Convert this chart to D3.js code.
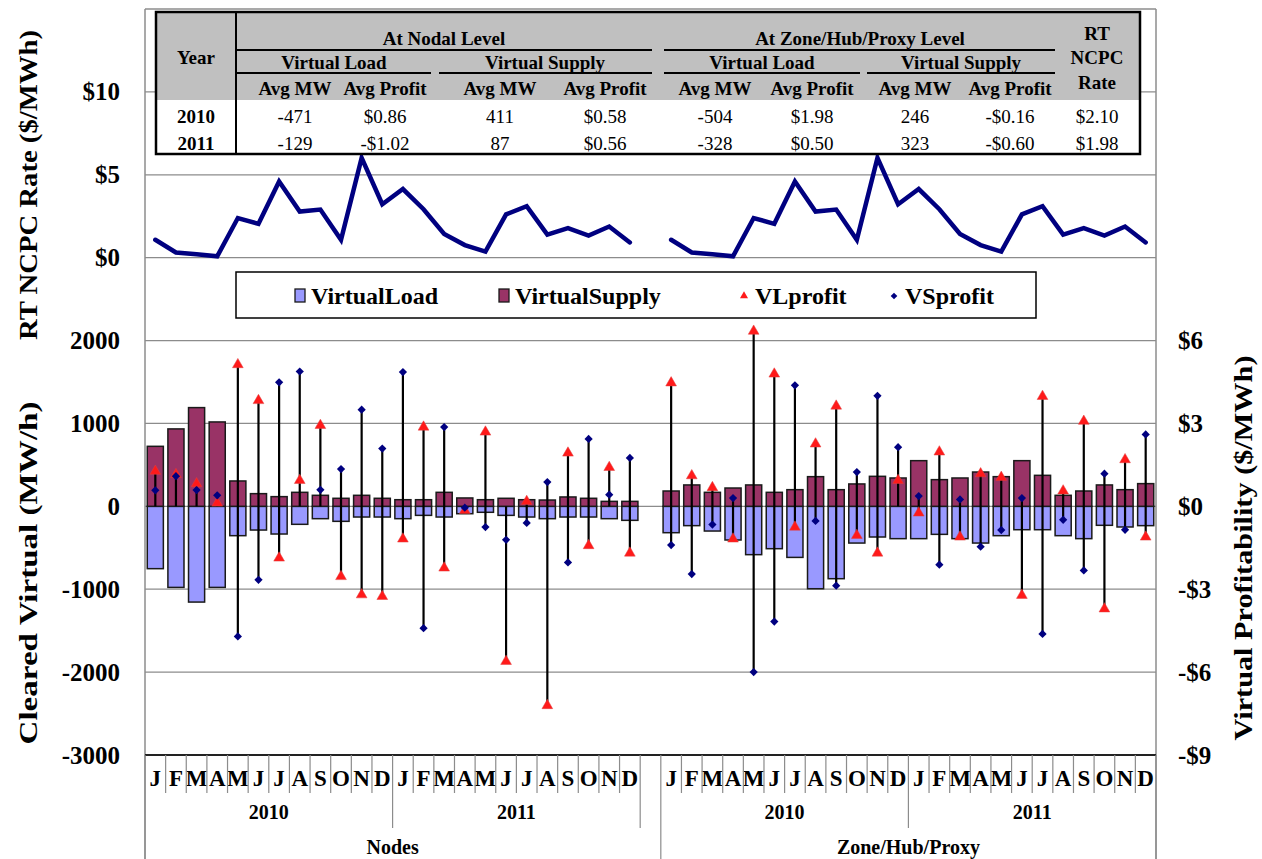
<!DOCTYPE html>
<html>
<head>
<meta charset="utf-8">
<script src="https://cdn.jsdelivr.net/npm/d3@7"></script>
<style>
  html, body { margin: 0; padding: 0; background: #fff; }
  svg { display: block; font-family: "Liberation Serif", "Times New Roman", serif; }
</style>
</head>
<body>
<svg id="chart" width="1262" height="859"></svg>
<script>
// ---- Category structure ----
const months = ["J", "F", "M", "A", "M", "J", "J", "A", "S", "O", "N", "D"];
const years = ["2010", "2011"];
const groups = ["Nodes", "Zone/Hub/Proxy"];

// ---- Monthly series, Jan 2010 .. Dec 2011 ----
// Cleared virtual MW/h at nodes
const nodeVirtualLoad   = [-752, -978, -1155, -978, -354, -286, -334, -217, -149, -181, -129, -129,
                           -149, -109, -129, -89, -72, -109, -129, -149, -129, -129, -149, -169];
const nodeVirtualSupply = [724, 934, 1191, 1018, 306, 153, 117, 169, 133, 97, 133, 97,
                           80, 80, 169, 101, 80, 97, 80, 76, 113, 97, 60, 60];
// Profitability $/MWh at nodes
const nodeVLprofit = [1.27, 1.15, 0.82, 0.12, 5.13, 3.83, -1.87, 0.94, 2.93, -2.54, -3.20, -3.26,
                      -1.18, 2.87, -2.23, -0.15, 2.69, -5.61, 0.18, -7.21, 1.93, -1.42, 1.41, -1.69];
const nodeVSprofit = [0.58, 1.09, 0.59, 0.40, -4.71, -2.66, 4.49, 4.88, 0.60, 1.35, 3.50, 2.09,
                      4.86, -4.41, 2.87, -0.05, -0.75, -1.21, -0.60, 0.88, -2.03, 2.44, 0.42, 1.75];
// Cleared virtual MW/h at zone / hub / proxy
const zoneVirtualLoad   = [-318, -233, -298, -406, -583, -511, -616, -994, -873, -443, -370, -390,
                           -390, -338, -390, -443, -354, -282, -282, -354, -390, -229, -249, -233];
const zoneVirtualSupply = [185, 258, 169, 221, 258, 169, 201, 358, 201, 270, 362, 342,
                           551, 322, 342, 414, 358, 551, 374, 133, 185, 258, 201, 274];
// Profitability $/MWh at zone / hub / proxy
const zoneVLprofit = [4.47, 1.11, 0.68, -1.18, 6.34, 4.79, -0.75, 2.26, 3.63, -1.05, -1.69, 0.94,
                      -0.24, 1.97, -1.11, 1.18, 1.05, -3.22, 3.98, 0.56, 3.08, -3.71, 1.69, -1.11];
const zoneVSprofit = [-1.40, -2.45, -0.66, 0.30, -6.00, -4.17, 4.38, -0.53, -2.87, 1.24, 4.00, 2.14,
                      0.37, -2.11, 0.25, -1.46, -0.86, 0.30, -4.62, -0.49, -2.32, 1.18, -0.85, 2.60];
// Real-time NCPC rate $/MWh
const ncpcRate = [1.08, 0.31, 0.20, 0.08, 2.39, 2.04, 4.59, 2.78, 2.90, 1.08, 6.02, 3.22,
                  4.14, 2.92, 1.43, 0.76, 0.37, 2.61, 3.10, 1.39, 1.78, 1.33, 1.88, 0.92];

// ---- Summary table ----
const tableYears = ["2010", "2011"];
const nodalVLmw = [-471, -129];
const nodalVLprofit = [0.86, -1.02];
const nodalVSmw = [411, 87];
const nodalVSprofit = [0.58, 0.56];
const zonalVLmw = [-504, -328];
const zonalVLprofit = [1.98, 0.50];
const zonalVSmw = [246, 323];
const zonalVSprofit = [-0.16, -0.60];
const rtNcpcRate = [2.10, 1.98];

// ---- Axis ticks ----
const mwTicks = [-3000, -2000, -1000, 0, 1000, 2000];
const rateTicks = [0, 5, 10];
const profitTicks = [-9, -6, -3, 0, 3, 6];
const gridValues = [-2000, -1000, 0, 1000, 2000, 3000, 4000, 5000, 6000];

// ---- Build slots: two groups of 24 months separated by an empty slot ----
const slots = [];
const rows = { "Nodes": [], "Zone/Hub/Proxy": [] };
const src = {
  "Nodes": [nodeVirtualLoad, nodeVirtualSupply, nodeVLprofit, nodeVSprofit],
  "Zone/Hub/Proxy": [zoneVirtualLoad, zoneVirtualSupply, zoneVLprofit, zoneVSprofit]
};
groups.forEach((g, gi) => {
  if (gi > 0) slots.push("gap");
  years.forEach((y, yi) => {
    months.forEach((m, mi) => {
      const key = g + "|" + y + "|" + mi;
      const k = yi * 12 + mi;
      slots.push(key);
      rows[g].push({
        key, group: g, year: y, month: m,
        load: src[g][0][k], supply: src[g][1][k],
        vl: src[g][2][k], vs: src[g][3][k], rate: ncpcRate[k]
      });
    });
  });
});
const allRows = rows["Nodes"].concat(rows["Zone/Hub/Proxy"]);

// ---- Scales ----
const plotL = 145, plotR = 1156, plotT = 9, plotB = 755;
const x = d3.scaleBand().domain(slots).range([plotL, plotR]).paddingInner(0.22).paddingOuter(0.11);
const yMW = d3.scaleLinear().domain([-3000, 6000]).range([plotB, plotT]);
const yRate = d3.scaleLinear().domain([-30, 15]).range([plotB, plotT]);
const yProfit = d3.scaleLinear().domain([-9, 18]).range([plotB, plotT]);
const cx = k => x(k) + x.bandwidth() / 2;
const money = v => (v < 0 ? "-$" : "$") + Math.abs(v).toFixed(2);
const dollars = v => (v < 0 ? "-$" : "$") + Math.abs(v);

const svg = d3.select("#chart");
const gridColor = "#8c8c8c";

// ---- Gridlines and frame ----
svg.append("g").selectAll("line").data(gridValues).join("line")
  .attr("x1", plotL).attr("x2", plotR)
  .attr("y1", d => yMW(d)).attr("y2", d => yMW(d))
  .attr("stroke", gridColor).attr("stroke-width", 1.3);
svg.append("line").attr("x1", plotL).attr("x2", plotL).attr("y1", plotT).attr("y2", 859)
  .attr("stroke", gridColor).attr("stroke-width", 1.5);
svg.append("line").attr("x1", plotR).attr("x2", plotR).attr("y1", plotT).attr("y2", 859)
  .attr("stroke", gridColor).attr("stroke-width", 1.5);

// ---- Bars ----
const bars = svg.append("g");
bars.selectAll("rect.vl").data(allRows).join("rect").attr("class", "vl")
  .attr("x", d => x(d.key)).attr("width", x.bandwidth())
  .attr("y", yMW(0)).attr("height", d => yMW(d.load) - yMW(0))
  .attr("fill", "#9999ff").attr("stroke", "#1a1a1a").attr("stroke-width", 1.5);
bars.selectAll("rect.vs").data(allRows).join("rect").attr("class", "vs")
  .attr("x", d => x(d.key)).attr("width", x.bandwidth())
  .attr("y", d => yMW(d.supply)).attr("height", d => yMW(0) - yMW(d.supply))
  .attr("fill", "#993366").attr("stroke", "#1a1a1a").attr("stroke-width", 1.5);

// ---- Axis line along the bottom of the plot ----
svg.append("line").attr("x1", plotL).attr("x2", plotR).attr("y1", plotB).attr("y2", plotB)
  .attr("stroke", "#222").attr("stroke-width", 1.8);

// ---- High-low lines between profit markers (spanning zero) ----
svg.append("g").selectAll("line").data(allRows).join("line")
  .attr("x1", d => cx(d.key)).attr("x2", d => cx(d.key))
  .attr("y1", d => yProfit(Math.max(0, d.vl, d.vs)))
  .attr("y2", d => yProfit(Math.min(0, d.vl, d.vs)))
  .attr("stroke", "#000").attr("stroke-width", 2.2);

// ---- Profit markers ----
const tri = d3.symbol().type(d3.symbolTriangle).size(50);
const sq = d3.symbol().type(d3.symbolSquare).size(34);
svg.append("g").selectAll("path").data(allRows).join("path")
  .attr("d", tri)
  .attr("transform", d => `translate(${cx(d.key)},${yProfit(d.vl)})`)
  .attr("fill", "#ff1a1a").attr("stroke", "#e04040").attr("stroke-width", 0.5);
svg.append("g").selectAll("path").data(allRows).join("path")
  .attr("d", sq)
  .attr("transform", d => `translate(${cx(d.key)},${yProfit(d.vs)}) rotate(45)`)
  .attr("fill", "#000080");

// ---- RT NCPC rate lines ----
const rateLine = d3.line().x(d => cx(d.key)).y(d => yRate(d.rate));
groups.forEach(g => {
  svg.append("path").datum(rows[g]).attr("d", rateLine)
    .attr("fill", "none").attr("stroke", "#000080").attr("stroke-width", 4.5)
    .attr("stroke-linejoin", "miter").attr("stroke-linecap", "round");
});

// ---- Value axes ----
const axisFont = g => g.selectAll("text")
  .attr("font-family", "'Liberation Serif', serif").attr("font-weight", "bold")
  .attr("font-size", 25).attr("fill", "#000");
svg.append("g").attr("transform", `translate(${plotL},0)`)
  .call(d3.axisLeft(yMW).tickValues(mwTicks).tickSize(0).tickPadding(25).tickFormat(d => String(d)))
  .call(g => g.select(".domain").remove()).call(axisFont);
svg.append("g").attr("transform", `translate(${plotL},0)`)
  .call(d3.axisLeft(yRate).tickValues(rateTicks).tickSize(0).tickPadding(25).tickFormat(dollars))
  .call(g => g.select(".domain").remove()).call(axisFont);
svg.append("g").attr("transform", `translate(${plotR},0)`)
  .call(d3.axisRight(yProfit).tickValues(profitTicks).tickSize(0).tickPadding(22).tickFormat(dollars))
  .call(g => g.select(".domain").remove()).call(axisFont);

// ---- Axis titles ----
function vTitle(text, xPos, yPos, len) {
  svg.append("text").attr("transform", `translate(${xPos},${yPos}) rotate(-90)`)
    .attr("text-anchor", "middle").attr("dominant-baseline", "central")
    .attr("font-weight", "bold").attr("font-size", 26)
    .attr("textLength", len).attr("lengthAdjust", "spacingAndGlyphs")
    .text(text);
}
vTitle("RT NCPC Rate ($/MWh)", 28, 185, 310);
vTitle("Cleared Virtual (MW/h)", 28, 573, 343);
vTitle("Virtual Profitability ($/MWh)", 1243, 548, 385);

// ---- Category axis: months, years, groups ----
const cat = svg.append("g");
cat.selectAll("text.m").data(allRows).join("text").attr("class", "m")
  .attr("x", d => cx(d.key)).attr("y", 778)
  .attr("text-anchor", "middle").attr("dominant-baseline", "central")
  .attr("font-weight", "bold").attr("font-size", 23).text(d => d.month);
const step = x.step();
d3.range(0, slots.length + 1).forEach(i => {
  const xp = plotL + i * step;
  const isGroupEdge = i === 24 || i === 25;
  const isYearEdge = i === 12 || i === 37;
  const y2 = (i === 0 || i === slots.length || i === 25) ? 859 : (isGroupEdge || isYearEdge ? 828 : 793);
  cat.append("line").attr("x1", xp).attr("x2", xp).attr("y1", plotB).attr("y2", y2)
    .attr("stroke", gridColor).attr("stroke-width", 1.2);
});
groups.forEach(g => {
  years.forEach(y => {
    const r = rows[g].filter(d => d.year === y);
    const x0 = x(r[0].key) - x.step() * x.paddingInner() / 2;
    const x1 = x(r[r.length - 1].key) + x.bandwidth() + x.step() * x.paddingInner() / 2;
    cat.append("text").attr("x", (x0 + x1) / 2).attr("y", 812)
      .attr("text-anchor", "middle").attr("dominant-baseline", "central")
      .attr("font-weight", "bold").attr("font-size", 20).text(y);
  });
  const r = rows[g];
  const x0 = x(r[0].key) - x.step() * x.paddingInner() / 2;
  const x1 = x(r[r.length - 1].key) + x.bandwidth() + x.step() * x.paddingInner() / 2;
  cat.append("text").attr("x", (x0 + x1) / 2).attr("y", 847)
    .attr("text-anchor", "middle").attr("dominant-baseline", "central")
    .attr("font-weight", "bold").attr("font-size", 20).text(g);
});

// ---- Legend ----
const lg = svg.append("g");
lg.append("rect").attr("x", 236).attr("y", 272).attr("width", 800).attr("height", 46)
  .attr("fill", "#fff").attr("stroke", "#000").attr("stroke-width", 1.5);
const legendItems = [
  { label: "VirtualLoad", kind: "rect", color: "#9999ff", x: 300 },
  { label: "VirtualSupply", kind: "rect", color: "#993366", x: 504 },
  { label: "VLprofit", kind: "tri", color: "#ff1a1a", x: 744 },
  { label: "VSprofit", kind: "dia", color: "#000080", x: 894 }
];
legendItems.forEach(it => {
  if (it.kind === "rect") {
    lg.append("rect").attr("x", it.x - 5).attr("y", 289).attr("width", 10).attr("height", 13)
      .attr("fill", it.color).attr("stroke", "#1a1a1a").attr("stroke-width", 1.3);
  } else if (it.kind === "tri") {
    lg.append("path").attr("d", d3.symbol().type(d3.symbolTriangle).size(28))
      .attr("transform", `translate(${it.x},296)`).attr("fill", it.color);
  } else {
    lg.append("path").attr("d", d3.symbol().type(d3.symbolSquare).size(22))
      .attr("transform", `translate(${it.x},296) rotate(45)`).attr("fill", it.color);
  }
  lg.append("text").attr("x", it.x + 11).attr("y", 296).attr("dominant-baseline", "central")
    .attr("font-weight", "bold").attr("font-size", 24).text(it.label);
});

// ---- Summary table ----
const tb = svg.append("g");
const tL = 156, tR = 1140, tT = 12, tB = 154, hdrB = 100, yearR = 236;
tb.append("rect").attr("x", tL).attr("y", tT).attr("width", tR - tL).attr("height", tB - tT).attr("fill", "#fff");
tb.append("rect").attr("x", tL).attr("y", tT).attr("width", tR - tL).attr("height", hdrB - tT).attr("fill", "#c0c0c0");
const hLines = [[yearR, 652, 50], [664, 1055, 50], [yearR, 431, 73], [439, 652, 73], [664, 860, 73], [867, 1055, 73]];
hLines.forEach(([a, b, yy]) => tb.append("line").attr("x1", a).attr("x2", b).attr("y1", yy).attr("y2", yy)
  .attr("stroke", "#000").attr("stroke-width", 2));
tb.append("line").attr("x1", yearR).attr("x2", yearR).attr("y1", tT).attr("y2", tB).attr("stroke", "#000").attr("stroke-width", 2);
tb.append("rect").attr("x", tL).attr("y", tT).attr("width", tR - tL).attr("height", tB - tT)
  .attr("fill", "none").attr("stroke", "#000").attr("stroke-width", 2.5);
function cell(txt, xx, yy, bold) {
  tb.append("text").attr("x", xx).attr("y", yy).attr("text-anchor", "middle").attr("dominant-baseline", "central")
    .attr("font-size", 19).attr("font-weight", bold ? "bold" : "normal").text(txt);
}
cell("Year", 196, 57, true);
cell("At Nodal Level", 444, 38, true);
cell("At Zone/Hub/Proxy Level", 860, 38, true);
cell("Virtual Load", 334, 62, true);
cell("Virtual Supply", 545, 62, true);
cell("Virtual Load", 762, 62, true);
cell("Virtual Supply", 961, 62, true);
cell("RT", 1097, 33, true);
cell("NCPC", 1097, 57, true);
cell("Rate", 1097, 82, true);
const colX = [295, 385, 500, 605, 715, 812, 915, 1010, 1097];
["Avg MW", "Avg Profit", "Avg MW", "Avg Profit", "Avg MW", "Avg Profit", "Avg MW", "Avg Profit"]
  .forEach((t, i) => cell(t, colX[i], 88, true));
tableYears.forEach((yr, i) => {
  const yy = 116 + i * 27;
  cell(yr, 196, yy, true);
  const vals = [String(nodalVLmw[i]), money(nodalVLprofit[i]), String(nodalVSmw[i]), money(nodalVSprofit[i]),
                String(zonalVLmw[i]), money(zonalVLprofit[i]), String(zonalVSmw[i]), money(zonalVSprofit[i]),
                money(rtNcpcRate[i])];
  vals.forEach((v, j) => cell(v, colX[j], yy, false));
});
</script>
</body>
</html>
